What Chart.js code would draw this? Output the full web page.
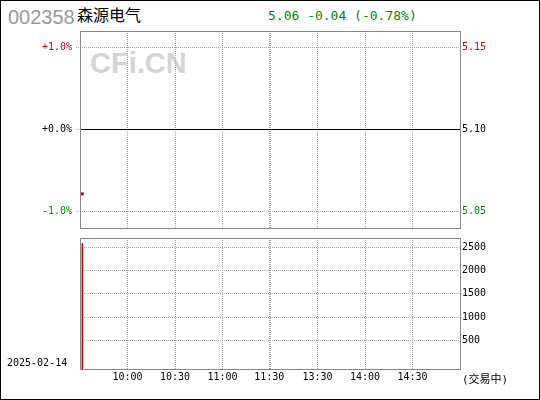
<!DOCTYPE html>
<html>
<head>
<meta charset="utf-8">
<script src="https://cdn.jsdelivr.net/npm/chart.js@4.4.1/dist/chart.umd.min.js"></script>
<style>
body { margin: 0; background: #fff; }
#wrap { position: relative; width: 540px; height: 400px; overflow: hidden; }
#frame { position: absolute; left: 0; top: 0; width: 538px; height: 398px; border: 1px solid #000; pointer-events: none; }
.t { position: absolute; white-space: nowrap; }
canvas { position: absolute; left: 0; }
</style>
</head>
<body>
<div id="wrap">
  <div class="t" id="mark" style="left:90px;top:49px;font:bold 29px/29px 'Liberation Sans';color:#d4d4d4">CFi.CN</div>
  <div class="t" id="code" style="left:8px;top:7px;font:20px/20px 'Liberation Sans';color:#999"></div>
  <div class="t" id="name" style="left:77px;top:6px;font:16px/16px 'Noto Sans CJK SC';color:#000"></div>
  <div class="t" id="quote" style="left:268px;top:9px;font:13px/13px 'DejaVu Sans Mono';color:#008c00"></div>
  <canvas id="priceChart" width="540" height="240" style="top:0"></canvas>
  <canvas id="volChart" width="540" height="170" style="top:230px"></canvas>
  <div class="t" id="date" style="left:7px;top:357px;font:10px/12px 'DejaVu Sans Mono';color:#000"></div>
  <div class="t" id="status" style="left:462px;top:373px;font:11px/14px 'DejaVu Sans Mono','Noto Sans CJK SC';color:#000">(交易中)</div>
  <div id="frame"></div>
</div>
<script>
var stockCode = '002358';
var stockName = '森源电气';
var tradeDate = '2025-02-14';
var prevClose = 5.10;

// minutes since 9:30 (240 trading minutes)
var minutes = [1.5];
var prices = [5.06];
var volumes = [2580];

var gridMinutes = [30, 60, 90, 119.5, 120.5, 150, 180, 210];
var timeLabels = ['10:00', '10:30', '11:00', '11:30', '', '13:30', '14:00', '14:30'];
var pctTicks = [-1, 0, 1];
var volTicks = [500, 1000, 1500, 2000, 2500];

var RED = '#cc0000', GREEN = '#008c00', GRID = '#aaa';
var monoFont = { family: 'DejaVu Sans Mono', size: 10 };

function pct(p) { return (p - prevClose) / prevClose * 100; }

var last = prices[prices.length - 1];
var chg = last - prevClose;
function signed(v, d) { return (v > 0 ? '+' : '') + v.toFixed(d); }
document.getElementById('code').textContent = stockCode;
document.getElementById('name').textContent = stockName;
document.getElementById('date').textContent = tradeDate;
document.getElementById('quote').textContent = last.toFixed(2) + ' ' + signed(chg, 2) + ' (' + signed(pct(last), 2) + '%)';

// grey frame round each panel
var panelBox = {
  id: 'panelBox',
  afterDraw: function(chart) {
    var a = chart.chartArea, ctx = chart.ctx;
    ctx.save();
    ctx.strokeStyle = '#888';
    ctx.lineWidth = 1;
    ctx.strokeRect(Math.round(a.left) + 0.5, Math.round(a.top) + 0.5,
                   Math.round(a.right - a.left), Math.round(a.bottom - a.top));
    ctx.restore();
  }
};

function timeGrid(s) { s.ticks = gridMinutes.map(function(v) { return { value: v }; }); }
function pctGrid(s) { s.ticks = pctTicks.map(function(v) { return { value: v }; }); }

new Chart(document.getElementById('priceChart'), {
  type: 'scatter',
  data: {
    datasets: [{
      type: 'line',
      data: [{ x: 0, y: pct(prevClose) }, { x: 240, y: pct(prevClose) }],
      borderColor: '#000',
      borderWidth: 1,
      pointRadius: 0,
      yAxisID: 'y'
    }, {
      data: prices.map(function(p, i) { return { x: minutes[i], y: pct(p) }; }),
      pointStyle: 'rect',
      pointRadius: 2.1,
      backgroundColor: '#c00000',
      borderWidth: 0,
      yAxisID: 'y'
    }]
  },
  options: {
    responsive: false,
    animation: false,
    layout: { padding: { top: 31 } },
    plugins: { legend: { display: false }, tooltip: { enabled: false } },
    scales: {
      x: {
        type: 'linear', min: 0, max: 240, offset: false,
        afterBuildTicks: timeGrid,
        afterFit: function(s) { s.height = 12; },
        ticks: { display: false },
        grid: { color: GRID, drawTicks: false, offset: false },
        border: { display: false, dash: [1, 1] }
      },
      y: {
        position: 'left', min: -1.2, max: 1.2,
        afterBuildTicks: pctGrid,
        afterFit: function(s) { s.width = 80; },
        ticks: {
          padding: 4,
          font: monoFont,
          color: function(c) { var v = c.tick.value; return v > 0 ? RED : (v < 0 ? GREEN : '#000'); },
          callback: function(v) { return (v < 0 ? '' : '+') + v.toFixed(1) + '%'; }
        },
        grid: { color: GRID, tickLength: 4, tickColor: GRID, tickBorderDash: [1, 1] },
        border: { display: false, dash: [1, 1] }
      },
      yR: {
        axis: 'y', position: 'right', min: -1.2, max: 1.2,
        afterBuildTicks: pctGrid,
        afterFit: function(s) { s.width = 80; },
        ticks: {
          padding: 2,
          font: monoFont,
          color: function(c) { var v = c.tick.value; return v > 0 ? RED : (v < 0 ? GREEN : '#000'); },
          callback: function(v) { return (prevClose * (1 + v / 100)).toFixed(2); }
        },
        grid: { display: false, drawTicks: false },
        border: { display: false }
      }
    }
  },
  plugins: [panelBox]
});

new Chart(document.getElementById('volChart'), {
  type: 'bar',
  data: {
    datasets: [{
      data: volumes.map(function(v, i) { return { x: minutes[i], y: v }; }),
      backgroundColor: RED,
      barThickness: 1,
      base: -113
    }]
  },
  options: {
    responsive: false,
    animation: false,
    layout: { padding: { top: 8, left: 80 } },
    plugins: { legend: { display: false }, tooltip: { enabled: false } },
    scales: {
      x: {
        type: 'linear', min: 0, max: 240, offset: false,
        afterBuildTicks: timeGrid,
        afterFit: function(s) { s.height = 31; },
        ticks: {
          padding: 2, font: monoFont, color: '#000',
          autoSkip: false, maxRotation: 0,
          callback: function(v, i) { return timeLabels[i]; }
        },
        grid: { color: GRID, drawTicks: false, offset: false },
        border: { display: false, dash: [1, 1] }
      },
      y: {
        position: 'right', min: -113, max: 2700,
        afterBuildTicks: function(s) { s.ticks = volTicks.map(function(v) { return { value: v }; }); },
        afterFit: function(s) { s.width = 80; },
        ticks: { padding: 2, font: monoFont, color: '#000', callback: function(v) { return String(v); } },
        grid: { color: GRID, drawTicks: false },
        border: { display: false, dash: [1, 1] }
      }
    }
  },
  plugins: [panelBox]
});
</script>
</body>
</html>
